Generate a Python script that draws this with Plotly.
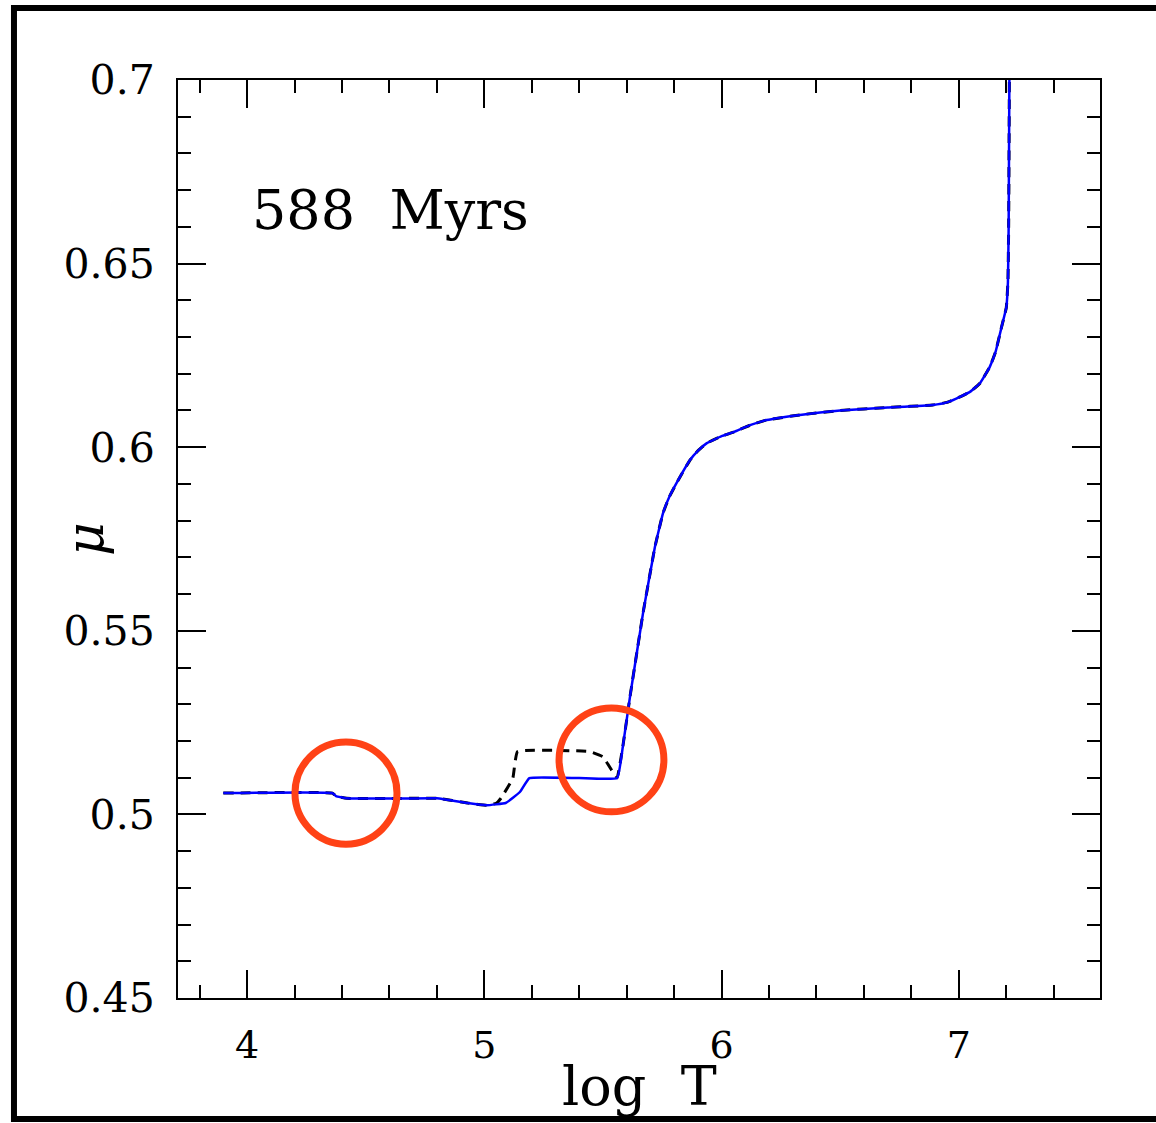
import plotly.graph_objects as go

# Data
logT_solid = [3.90, 4.36, 4.375, 4.42, 4.60, 4.80, 4.93, 5.01, 5.09, 5.15, 5.19, 5.40, 5.56,
              5.585, 5.614, 5.669, 5.719, 5.753, 5.78, 5.81, 5.867, 5.90, 5.938, 6.0, 6.05,
              6.12, 6.19, 6.33, 6.5, 6.7, 6.89, 6.95, 7.005, 7.05, 7.09, 7.13, 7.155, 7.18,
              7.20, 7.207, 7.21, 7.213]
mu_solid = [0.5058, 0.5058, 0.5050, 0.5044, 0.5043, 0.5044, 0.5031, 0.5025, 0.5031, 0.5061,
            0.5099, 0.5099, 0.5099, 0.519, 0.532, 0.5548, 0.5728, 0.582, 0.5865, 0.5902,
            0.5965, 0.5990, 0.6011, 0.6030, 0.6041, 0.6060, 0.6074, 0.6088, 0.6100, 0.6108,
            0.6115, 0.6122, 0.6137, 0.6152, 0.6175, 0.6218, 0.6260, 0.6327, 0.6380, 0.645,
            0.66, 0.70]

logT_dash = [3.90, 4.36, 4.375, 4.42, 4.60, 4.80, 4.93, 5.01, 5.05, 5.07, 5.12, 5.14, 5.445,
             5.50, 5.54, 5.56, 5.585, 5.614, 5.669, 5.719, 5.753, 5.78, 5.81, 5.867, 5.90,
             5.938, 6.0, 6.05, 6.12, 6.19, 6.33, 6.5, 6.7, 6.89, 6.95, 7.005, 7.05, 7.09,
             7.13, 7.155, 7.18, 7.20, 7.207, 7.21, 7.213]
mu_dash = [0.5058, 0.5058, 0.5050, 0.5044, 0.5043, 0.5044, 0.5031, 0.5025, 0.5030, 0.5044,
           0.5098, 0.5171, 0.5171, 0.5157, 0.5117, 0.5100, 0.519, 0.532, 0.5548, 0.5728,
           0.582, 0.5865, 0.5902, 0.5965, 0.5990, 0.6011, 0.6030, 0.6041, 0.6060, 0.6074,
           0.6088, 0.6100, 0.6108, 0.6115, 0.6122, 0.6137, 0.6152, 0.6175, 0.6218, 0.6260,
           0.6327, 0.6380, 0.645, 0.66, 0.70]

x_ticks = [4, 5, 6, 7]
y_ticks = [0.45, 0.5, 0.55, 0.6, 0.65, 0.7]
y_tick_labels = ["0.45", "0.5", "0.55", "0.6", "0.65", "0.7"]

label_text = "588\u00a0\u00a0Myrs"

SERIF = "DejaVu Serif"

fig = go.Figure()
fig.add_trace(go.Scatter(x=logT_dash, y=mu_dash, mode="lines",
                         line=dict(color="black", width=3, dash="10px,7px", shape="spline",
                                   smoothing=0.3),
                         showlegend=False, hoverinfo="skip"))
fig.add_trace(go.Scatter(x=logT_solid, y=mu_solid, mode="lines",
                         line=dict(color="#0000FF", width=2.5, shape="spline", smoothing=0.3),
                         showlegend=False, hoverinfo="skip"))

axis_common = dict(showline=True, linecolor="black", linewidth=2, mirror="allticks",
                   ticks="inside", ticklen=28, tickwidth=2, tickcolor="black",
                   showgrid=False, zeroline=False)

fig.update_xaxes(range=[3.709, 7.595], tickvals=x_ticks, ticktext=[str(v) for v in x_ticks],
                 tickfont=dict(family=SERIF, size=38, color="black"),
                 ticklabelstandoff=12,
                 minor=dict(dtick=0.2, tick0=0, ticks="inside", ticklen=13, tickwidth=2,
                            tickcolor="black", showgrid=False),
                 **axis_common)
fig.update_yaxes(range=[0.45, 0.7], tickvals=y_ticks, ticktext=y_tick_labels,
                 tickfont=dict(family=SERIF, size=41, color="black"),
                 ticklabelstandoff=13,
                 minor=dict(dtick=0.01, tick0=0, ticks="inside", ticklen=13, tickwidth=2,
                            tickcolor="black", showgrid=False),
                 **axis_common)

# outer frame
fig.add_shape(type="rect", xref="paper", yref="paper", x0=-0.1779, x1=1.075,
              y0=-0.1318, y1=1.0784, line=dict(color="black", width=6))

# red circles
fig.add_shape(type="circle", xref="x", yref="y", x0=4.202, x1=4.632, y0=0.4919, y1=0.5197,
              line=dict(color="#FF4216", width=7))
fig.add_shape(type="circle", xref="x", yref="y", x0=5.315, x1=5.757, y0=0.5007, y1=0.5290,
              line=dict(color="#FF4216", width=7))

fig.add_annotation(text=label_text, xref="paper", yref="paper", x=(250 - 178) / 922,
                   y=(998 - 210) / 918, xanchor="left", yanchor="middle", showarrow=False,
                   font=dict(family=SERIF, size=54, color="black"))
fig.add_annotation(text="log\u00a0\u00a0T", xref="paper", yref="paper", x=0.5,
                   y=(998 - 1086) / 918, xanchor="center", yanchor="middle", showarrow=False,
                   font=dict(family=SERIF, size=54, color="black"))
fig.add_annotation(text="<i>μ</i>", xref="paper", yref="paper", x=(85 - 178) / 922,
                   y=0.5, xanchor="center", yanchor="middle", showarrow=False, textangle=-90,
                   font=dict(family=SERIF, size=52, color="black"))

fig.update_layout(width=1156, height=1123, margin=dict(l=178, r=56, t=80, b=125),
                  paper_bgcolor="white", plot_bgcolor="white")

fig.write_html("out.html")
